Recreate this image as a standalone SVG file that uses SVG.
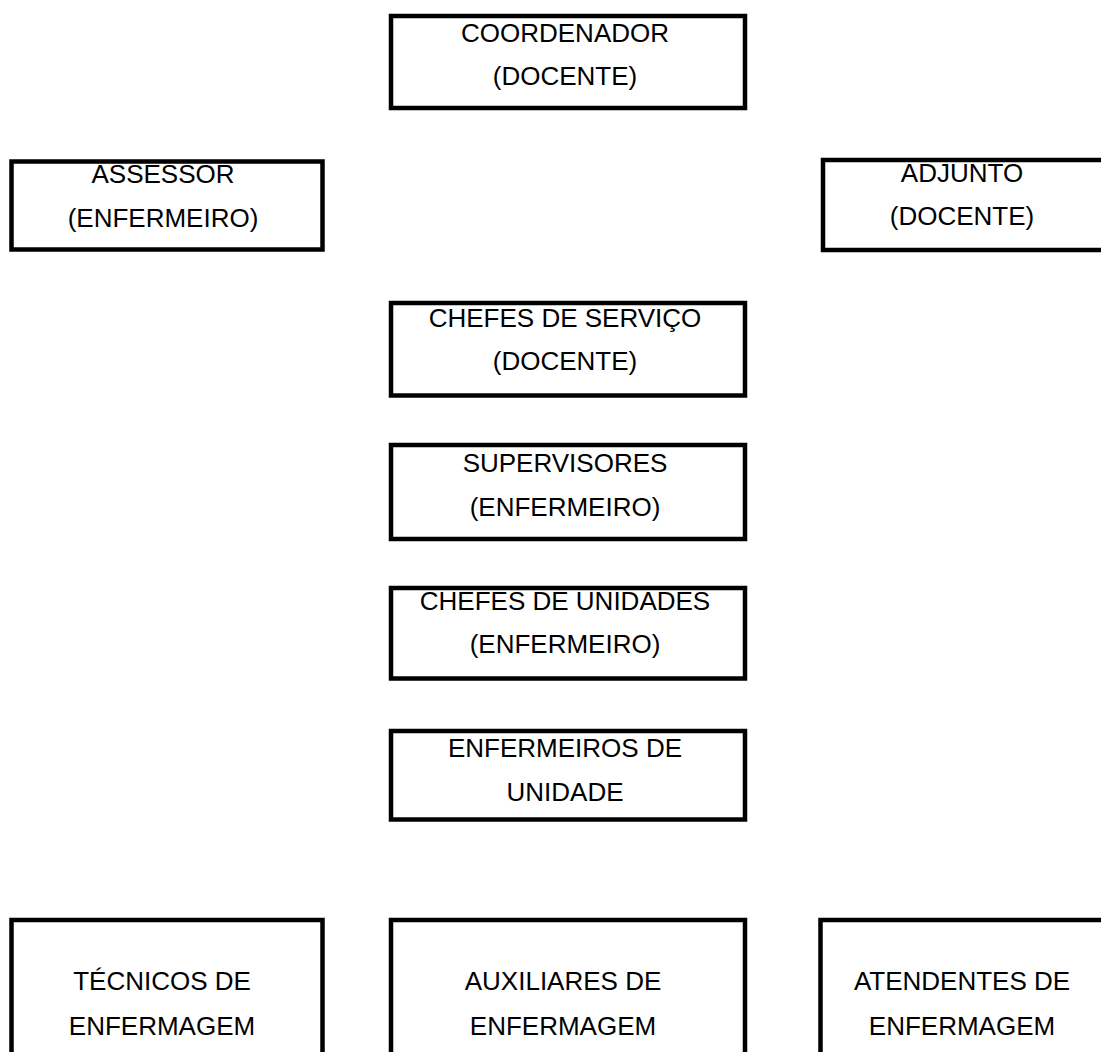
<svg xmlns="http://www.w3.org/2000/svg" width="1101" height="1052" viewBox="0 0 1101 1052">
<style>
.box{fill:#fff;stroke:#000;stroke-width:4.5}
.t{font-family:"Liberation Sans",Arial,sans-serif;font-size:26px;fill:#000;text-anchor:middle}
</style>
<rect width="1101" height="1052" fill="#fff"/>
<g id="connectors"></g>
<g id="coordenador"><rect class="box" x="391" y="16" width="354" height="92"/><text class="t" x="565" y="42">COORDENADOR</text><text class="t" x="565" y="85">(DOCENTE)</text></g>
<g id="assessor"><rect class="box" x="11.5" y="161.5" width="311" height="88"/><text class="t" x="163" y="183">ASSESSOR</text><text class="t" x="163" y="227">(ENFERMEIRO)</text></g>
<g id="adjunto"><rect class="box" x="823" y="160" width="290" height="90"/><text class="t" x="962" y="182">ADJUNTO</text><text class="t" x="962" y="225">(DOCENTE)</text></g>
<g id="chefes-servico"><rect class="box" x="391" y="303" width="354" height="92.5"/><text class="t" x="565" y="327">CHEFES DE SERVIÇO</text><text class="t" x="565" y="370">(DOCENTE)</text></g>
<g id="supervisores"><rect class="box" x="391" y="445" width="354" height="94"/><text class="t" x="565" y="472">SUPERVISORES</text><text class="t" x="565" y="516">(ENFERMEIRO)</text></g>
<g id="chefes-unidades"><rect class="box" x="391" y="588" width="354" height="90.5"/><text class="t" x="565" y="610">CHEFES DE UNIDADES</text><text class="t" x="565" y="653">(ENFERMEIRO)</text></g>
<g id="enfermeiros-unidade"><rect class="box" x="391" y="731" width="354" height="88.5"/><text class="t" x="565" y="757">ENFERMEIROS DE</text><text class="t" x="565" y="801">UNIDADE</text></g>
<g id="tecnicos"><rect class="box" x="11.5" y="920" width="311" height="160"/><text class="t" x="162" y="990">TÉCNICOS DE</text><text class="t" x="162" y="1035">ENFERMAGEM</text></g>
<g id="auxiliares"><rect class="box" x="391" y="920" width="354" height="160"/><text class="t" x="563" y="990">AUXILIARES DE</text><text class="t" x="563" y="1035">ENFERMAGEM</text></g>
<g id="atendentes"><rect class="box" x="820.5" y="920" width="300" height="160"/><text class="t" x="962" y="990">ATENDENTES DE</text><text class="t" x="962" y="1035">ENFERMAGEM</text></g>
</svg>
